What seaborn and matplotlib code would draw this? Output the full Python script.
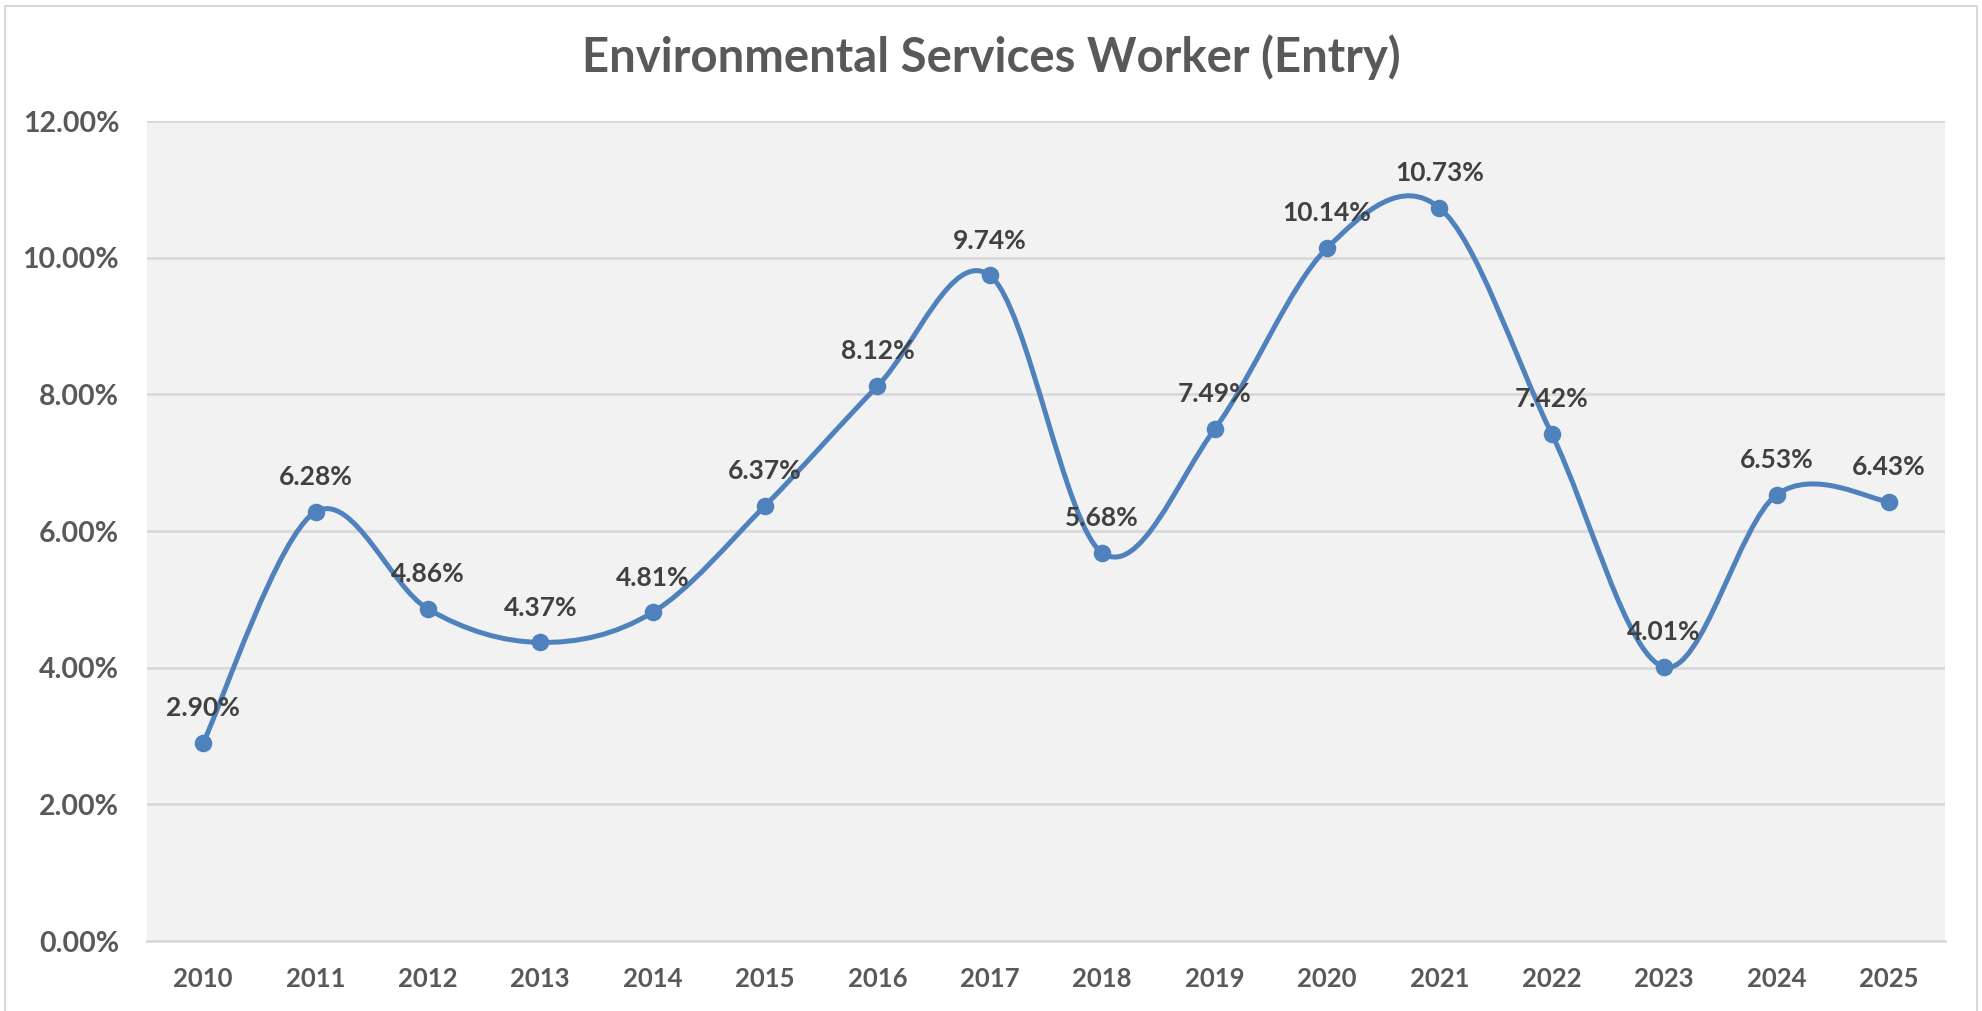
import numpy as np
import pandas as pd
import seaborn as sns
import matplotlib.pyplot as plt
from matplotlib.path import Path
from matplotlib.patches import PathPatch
from matplotlib.lines import Line2D
from matplotlib.ticker import FuncFormatter, FixedLocator

years = ["2010", "2011", "2012", "2013", "2014", "2015", "2016", "2017",
         "2018", "2019", "2020", "2021", "2022", "2023", "2024", "2025"]
rates = [2.90, 6.28, 4.86, 4.37, 4.81, 6.37, 8.12, 9.74,
         5.68, 7.49, 10.14, 10.73, 7.42, 4.01, 6.53, 6.43]
title = "Environmental Services Worker (Entry)"

df = pd.DataFrame({"year": years, "rate": rates})
df["pos"] = np.arange(len(df))

blue = "#4F81BD"
grid = "#D9D9D9"
tick_col = "#595959"
lab_col = "#404040"

sns.set_style("white", {"axes.facecolor": "#F2F2F2"})
plt.rcParams["font.family"] = ["Lato", "DejaVu Sans"]

fig = plt.figure(figsize=(19.83, 10.11), dpi=100)
ax = fig.add_axes([0.0741, 0.0692, 0.9068, 0.8111])

# smoothed line (excel style bezier through the points)
x = df["pos"].to_numpy(float)
y = df["rate"].to_numpy(float)
n = len(x)
verts = [(x[0], y[0])]
codes = [Path.MOVETO]
for i in range(n - 1):
    p0 = np.array([x[max(i - 1, 0)], y[max(i - 1, 0)]])
    p1 = np.array([x[i], y[i]])
    p2 = np.array([x[i + 1], y[i + 1]])
    p3 = np.array([x[min(i + 2, n - 1)], y[min(i + 2, n - 1)]])
    c1 = p1 + (p2 - p0) / 6
    c2 = p2 - (p3 - p1) / 6
    verts += [tuple(c1), tuple(c2), tuple(p2)]
    codes += [Path.CURVE4] * 3
ax.add_patch(PathPatch(Path(verts, codes), facecolor="none", edgecolor=blue,
                       lw=3.6, capstyle="round", joinstyle="round", zorder=3))

sns.scatterplot(data=df, x="pos", y="rate", ax=ax, color=blue, s=160,
                edgecolor=blue, linewidth=0, zorder=4, legend=False)

for _, r in df.iterrows():
    ax.annotate(f"{r['rate']:.2f}%", (r["pos"], r["rate"]), xytext=(0, 25),
                textcoords="offset points", ha="center", va="center",
                fontsize=19, fontweight="bold", color=lab_col, zorder=5)

ax.set_xlim(-0.5, n - 0.5)
ax.set_ylim(0, 12)
ax.set_yticks(np.arange(0, 12.1, 2))
ax.yaxis.set_major_formatter(FuncFormatter(lambda v, p: f"{v:.2f}%"))
ax.set_xticks(df["pos"])
ax.set_xticklabels(df["year"])
ax.xaxis.set_minor_locator(FixedLocator(np.arange(-0.5, n, 1)))
ax.tick_params(axis="x", which="major", length=0, pad=19,
               labelsize=18.5, labelcolor=tick_col)
ax.tick_params(axis="x", which="minor", length=9, width=1.3, color=grid,
               direction="out")
ax.tick_params(axis="y", length=0, pad=20, labelsize=20.5, labelcolor=tick_col)
for lab in ax.get_xticklabels() + ax.get_yticklabels():
    lab.set_fontweight("bold")

ax.yaxis.grid(True, color=grid, lw=2)
ax.set_axisbelow(True)
for s in ["top", "right", "left"]:
    ax.spines[s].set_visible(False)
ax.spines["bottom"].set_color(grid)
ax.spines["bottom"].set_linewidth(2)
ax.set_xlabel("")
ax.set_ylabel("")

fig.text(0.5, 0.943, title, ha="center", va="center", fontsize=34,
         fontweight="bold", color=tick_col)

# chart border
for xs, ys in [([0.0025, 0.0025], [0.0, 0.994]),
               ([0.0025, 0.997], [0.994, 0.994]),
               ([0.997, 0.997], [0.0, 0.994])]:
    fig.add_artist(Line2D(xs, ys, color=grid, lw=1.5))

fig.savefig("out.png", dpi=100)
